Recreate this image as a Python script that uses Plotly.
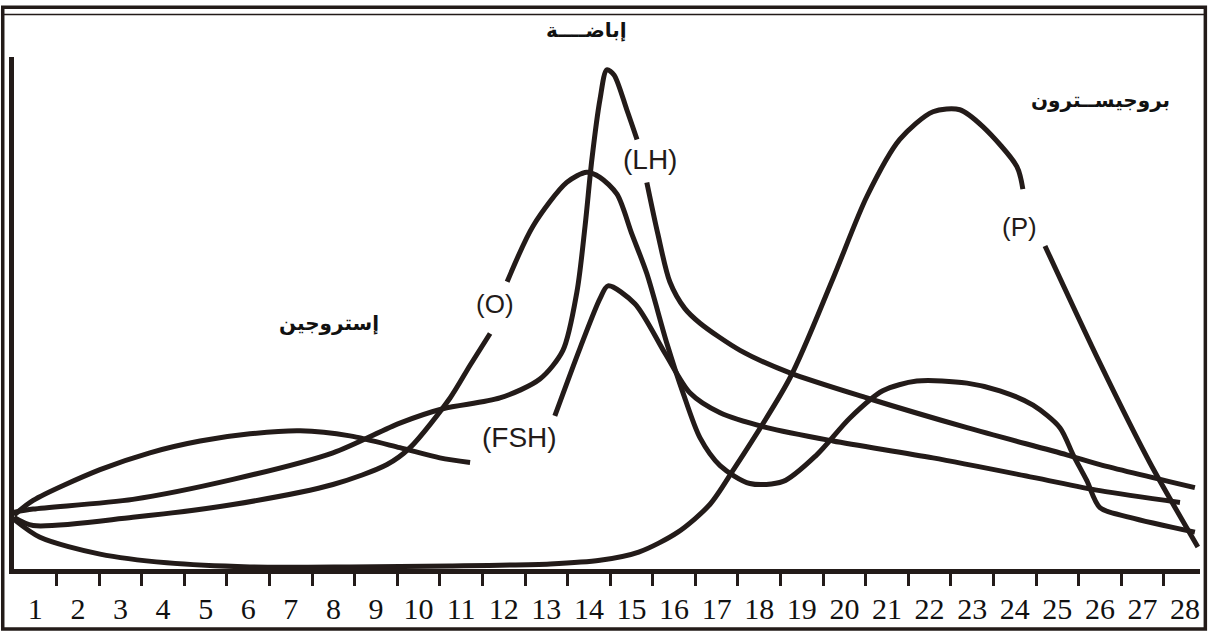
import plotly.graph_objects as go

# Cycle days shown on the horizontal axis
day_ticks = list(range(1, 29))
day_labels = [str(d) for d in day_ticks]
day_boundaries = [d + 0.5 for d in range(1, 28)]

# Hormone levels (relative units) along the cycle; None leaves room for a curve label
fsh_day = [0.5, 0.95, 2.52, 3.69, 4.87, 6.04, 7.22, 8.39, 9.56, 10.5, 11.21, None,
           13.20, 13.79, 14.26, 14.45, 15.08, 15.79, 16.37, 17.08, 18.18, 19.73,
           22.08, 24.43, 26.0, 27.88]
fsh_level = [10.5, 13.4, 19.4, 22.7, 25.0, 26.4, 27.0, 26.0, 23.7, 21.7, 20.8, None,
             29.9, 43.1, 52.8, 55.3, 51.8, 42.1, 34.4, 30.5, 27.6, 25.0,
             21.7, 17.9, 15.3, 13.0]

lh_day = [0.5, 0.95, 3.29, 5.64, 7.99, 9.56, 10.57, 11.91, 12.85, 13.39, 13.72, 13.91,
          14.07, 14.26, 14.42, 14.59, 14.89, 15.13, None,
          15.36, 15.62, 15.90, 16.25, 16.61, 17.55, 18.72, 20.53, 22.88, 25.22,
          26.0, 28.23]
lh_level = [11.1, 11.7, 13.6, 17.5, 22.7, 28.5, 31.3, 33.4, 37.1, 42.7, 54.2, 67.0,
            80.0, 91.7, 97.5, 96.5, 89.7, 83.9, None,
            75.5, 65.4, 56.1, 50.9, 48.0, 42.7, 38.3, 33.4, 27.6, 22.3,
            20.4, 15.9]

estrogen_day = [0.5, 0.95, 3.29, 5.64, 7.99, 9.26, 9.80, 10.74, 11.21, 11.68, None,
                12.08, 12.69, 13.48, 13.95, 14.26, 14.66, 15.01, 15.36, 15.83, 16.21,
                16.61, 17.08, 17.78, 18.56, 19.35, 20.13, 20.90, 21.70, 22.88, 23.65,
                24.43, 25.06, 25.37, 25.69, 26.0, 26.70, 28.23]
estrogen_level = [10.1, 8.5, 10.1, 12.6, 16.5, 20.4, 23.7, 33.4, 39.8, 46.0, None,
                  56.1, 67.0, 75.5, 77.5, 76.5, 73.2, 65.4, 57.7, 44.1, 34.4,
                  25.6, 20.2, 16.7, 17.1, 22.3, 29.5, 34.8, 36.7, 36.3, 34.8,
                  32.0, 27.6, 22.3, 17.3, 12.0, 10.1, 7.2]

progesterone_day = [0.5, 1.11, 2.52, 4.09, 6.04, 8.39, 10.74, 13.09, 14.26, 15.17,
                    16.09, 16.84, 17.38, 18.72, 19.73, 20.53, 21.30, 22.08, 22.71,
                    23.25, 24.05, 24.19, None, 24.71, 26.0, 27.17, 28.30]
progesterone_level = [9.7, 6.2, 2.9, 1.2, 0.4, 0.4, 0.6, 1.0, 1.7, 3.3,
                      7.2, 12.6, 19.2, 37.3, 56.7, 72.8, 83.9, 89.3, 89.7,
                      86.4, 78.6, 74.2, None, 63.1, 40.2, 20.8, 4.3]

INK = "#231b19"

fig = go.Figure()
for xs, ys in [(progesterone_day, progesterone_level), (fsh_day, fsh_level),
               (estrogen_day, estrogen_level), (lh_day, lh_level)]:
    fig.add_trace(go.Scatter(
        x=xs, y=ys, mode="lines",
        line=dict(color=INK, width=5, shape="spline", smoothing=0.8),
        connectgaps=False, hoverinfo="skip", showlegend=False,
    ))

# Curve names written beside the curves
curve_labels = [
    ("(LH)", 15.43, 80.0, 28),
    ("(O)", 11.79, 51.8, 26),
    ("(FSH)", 12.38, 25.6, 28),
    ("(P)", 24.12, 66.8, 26),
]
for text, x, y, size in curve_labels:
    fig.add_annotation(x=x, y=y, text=text, showarrow=False,
                       xanchor="center", yanchor="middle",
                       font=dict(family="Liberation Sans", size=size, color=INK))

# Arabic captions
captions = [
    ("إباضــــة", 0.483, 1.052, 20),
    ("بروجيســترون", 0.916, 0.9165, 20),
    ("إستروجين", 0.266, 0.48, 20),
]
for text, xp, yp, size in captions:
    fig.add_annotation(xref="paper", yref="paper", x=xp, y=yp, text=f"<b>{text}</b>",
                       showarrow=False, xanchor="center", yanchor="middle",
                       font=dict(family="DejaVu Sans", size=size, color="#111111"))

# Outer frame
fig.add_shape(type="rect", xref="paper", yref="paper",
              x0=-0.0095, x1=1.0045, y0=-0.117, y1=1.097,
              line=dict(color=INK, width=3.5), layer="above")
fig.add_shape(type="line", xref="paper", yref="paper",
              x0=-0.0095, x1=1.0045, y0=1.083, y1=1.083,
              line=dict(color=INK, width=1.5))

fig.update_layout(
    width=1212, height=637,
    margin=dict(l=14, r=12, t=57, b=65),
    paper_bgcolor="white", plot_bgcolor="white",
    showlegend=False,
    xaxis=dict(
        range=[0.5, 28.35], showgrid=False, zeroline=False,
        showline=True, linecolor=INK, linewidth=4.5,
        tickmode="array", tickvals=day_ticks, ticktext=day_labels,
        ticks="", ticklabelstandoff=9,
        tickfont=dict(family="Liberation Serif", size=30, color="#111111"),
        minor=dict(tickmode="array", tickvals=day_boundaries, ticks="outside",
                   ticklen=12, tickwidth=2.5, tickcolor=INK),
    ),
    yaxis=dict(
        range=[0, 100], showgrid=False, zeroline=False,
        showline=True, linecolor=INK, linewidth=4.5,
        showticklabels=False, ticks="",
    ),
)

fig.write_html("out.html")
